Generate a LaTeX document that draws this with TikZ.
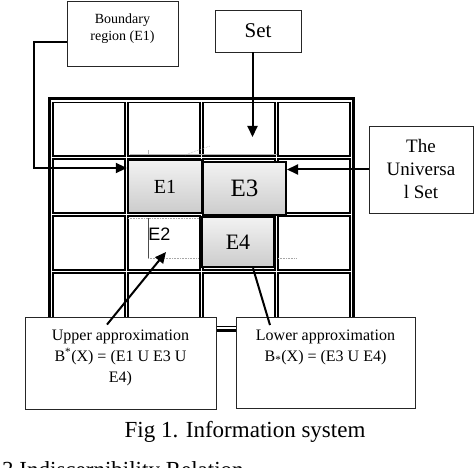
\documentclass[tikz,border=0pt]{standalone}
\usepackage{fontspec}
\setmainfont{Liberation Serif}
\newfontfamily\esans{Liberation Sans}
\usetikzlibrary{arrows.meta}

\tikzset{
  textbox/.style={draw=black!85, line width=0.9pt, fill=white, inner sep=0pt, align=center},
  classbox/.style={draw=black, line width=2.4pt, top color=gray!10, bottom color=gray!40, inner sep=0pt},
  bigarrow/.style={line width=2pt, -{Triangle[length=11pt,width=10pt]}},
  artefact/.style={gray!70, line width=0.6pt, densely dotted},
}

\begin{document}
\begin{tikzpicture}[x=1pt,y=-1pt]
\useasboundingbox (0,0) rectangle (474,468);
\clip (0,0) rectangle (474,468);

% Griglia dell'universo
\draw[line width=2.6pt] (49.3,98.8) rectangle (353.7,330.2);
\foreach \c in {0,...,3}
  \foreach \r in {0,...,3}
    \draw[line width=1.8pt] ({51.5+75*\c+1.6},{101+56.75*\r+1.6}) rectangle ({51.5+75*(\c+1)-1.6},{101+56.75*(\r+1)-1.6});

% Linee residue
\draw[gray!60, line width=0.6pt] (130,154) -- (277,154);
\draw[gray!60, line width=0.6pt] (148,150) -- (148,154);
\draw[artefact] (185,155) -- (210,146);
\draw[artefact] (128,218) -- (200,218);
\draw[black!70, line width=0.6pt] (148,218) -- (148,258);
\draw[artefact] (148,258) -- (198,258);
\draw[artefact] (278,258) -- (297,258);

% Classi
\node[classbox, minimum width=74, minimum height=53, font=\fontsize{20}{24}\selectfont] (e1) at (165,186.5) {E1};
\node[classbox, minimum width=83, minimum height=53, line width=2pt, font=\fontsize{25}{28}\selectfont] (e3) at (244.5,188.5) {E3};
\node[classbox, minimum width=72, minimum height=50, font=\fontsize{22}{26}\selectfont] (e4) at (238,242) {E4};
\node[anchor=base, inner sep=0pt, font=\esans\fontsize{18}{20}\selectfont] (e2) at (159.5,240) {E2};
\coordinate (e2tip) at (166,252);
\coordinate (settip) at (252.5,137);

% Riquadri
\node[textbox, minimum width=111, minimum height=65] (boundary) at (122.5,33.5) {};
\node[anchor=north, inner sep=0pt, align=center, font=\fontsize{14}{17}\selectfont] (boundarytext) at (122.5,13.4) {Boundary\\region (E1)};
\node[textbox, minimum width=86, minimum height=42, font=\fontsize{21}{24}\selectfont] (set) at (258,31) {Set};
\node[textbox, minimum width=104, minimum height=87, font=\fontsize{19}{23}\selectfont] (universal) at (421,169.5) {The\\Universa\\l Set};
\node[textbox, minimum width=191, minimum height=92] (upper) at (120.5,363) {};
\node[anchor=north, inner sep=0pt, align=center, font=\fontsize{16}{21}\selectfont] (uppertext) at (120.5,330) {Upper approximation\\B\textsuperscript{*}(X) = (E1 U E3 U\\E4)};
\node[textbox, minimum width=179, minimum height=91] (lower) at (325.5,362.5) {};
\node[anchor=north, inner sep=0pt, align=center, font=\fontsize{16}{21}\selectfont] (lowertext) at (325.5,329.4) {Lower approximation\\B\textsubscript{*}(X) = (E3 U E4)};

% Frecce
\draw[bigarrow] ([yshift=-8.5pt]boundary.west) -- ++(-33,0) |- ([yshift=18.5pt]e1.west);
\draw[bigarrow] ([xshift=-5.5pt]set.south) -- (settip);
\draw[bigarrow] (universal.west) -- (universal.west -| e3.east);
\draw[bigarrow] ([xshift=-13.5pt,yshift=-8pt]upper.north) -- (e2tip);
\draw[line width=2pt] ([xshift=-55.5pt,yshift=-8.5pt]lower.north) -- ([xshift=15pt]e4.south);

% Didascalia
\node[anchor=base, inner sep=0pt, font=\fontsize{23}{27}\selectfont] (caption) at (245,437) {Fig 1. Information system};
\node[anchor=base west, inner sep=0pt, font=\fontsize{23}{27}\selectfont] (section) at (2,477) {3 Indiscernibility Relation};
\end{tikzpicture}
\end{document}
